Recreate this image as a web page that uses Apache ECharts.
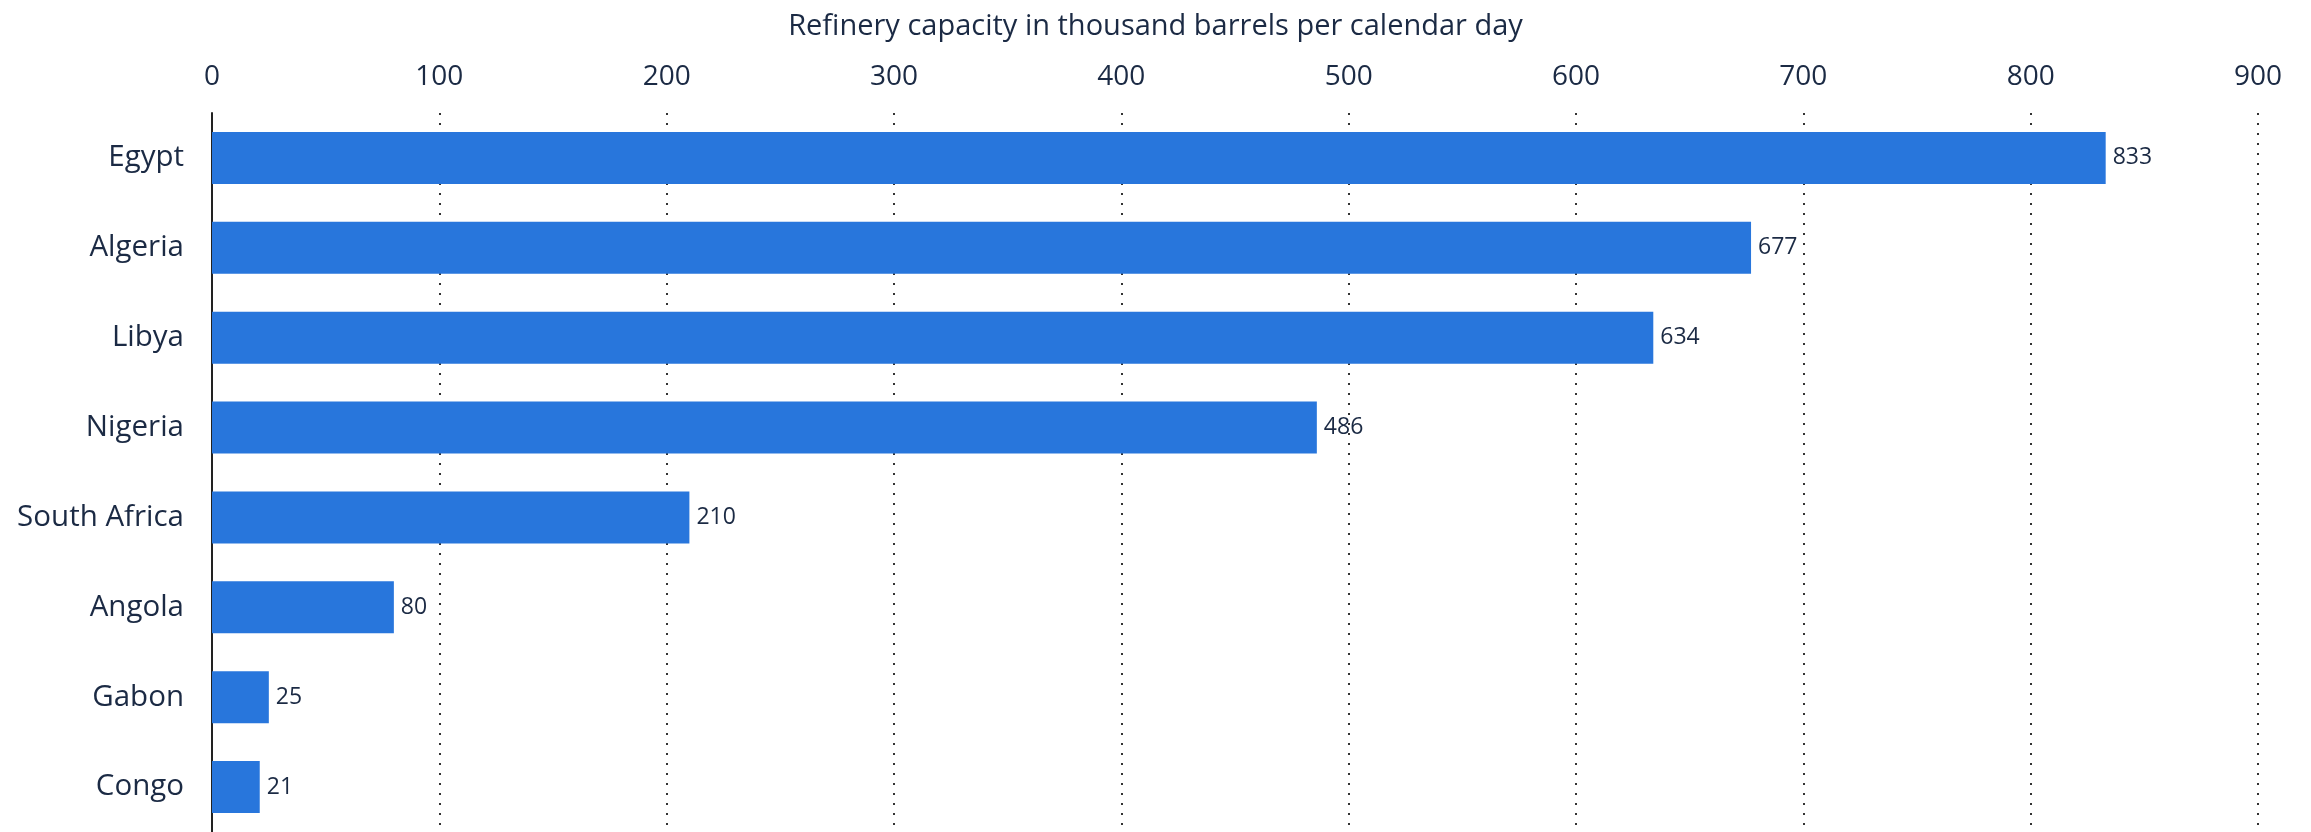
<!DOCTYPE html>
<html><head><meta charset="utf-8">
<script src="https://cdn.jsdelivr.net/npm/echarts@6/dist/echarts.min.js"></script>
<style>html,body{margin:0;padding:0;background:#fff}#c{width:2311px;height:832px}</style>
</head><body><div id="c"></div>
<script>
const categories = ["Egypt","Algeria","Libya","Nigeria","South Africa","Angola","Gabon","Congo"];
const values = [833,677,634,486,210,80,25,21];
const titleText = "Refinery capacity in thousand barrels per calendar day";
const textColor = "#1b2a44";
const chart = echarts.init(document.getElementById('c'));
chart.setOption({
  animation:false,
  backgroundColor:'#fff',
  textStyle:{fontFamily:'Open Sans'},
  title:{text:titleText,left:'center',top:7,textStyle:{fontFamily:'Open Sans',fontWeight:'normal',fontSize:29,color:textColor}},
  grid:{left:212,right:53,top:113,bottom:-8,containLabel:false},
  xAxis:{type:'value',position:'top',min:0,max:900,interval:100,
    axisLine:{show:false},axisTick:{show:false},
    axisLabel:{fontSize:28,color:textColor,margin:22,fontFamily:'Open Sans'},
    splitLine:{show:true,lineStyle:{color:'#333',width:2,type:[2,8]}}},
  yAxis:{type:'category',data:categories,inverse:true,
    axisLine:{show:true,lineStyle:{color:'#222',width:2}},axisTick:{show:false},
    axisLabel:{fontSize:29.5,color:textColor,margin:28,fontFamily:'Open Sans'}},
  series:[{type:'bar',data:values,barWidth:52,itemStyle:{color:'#2876dc'},
    label:{show:true,position:'right',distance:7,fontSize:23,color:textColor,fontFamily:'Open Sans'}}]
});
</script></body></html>
